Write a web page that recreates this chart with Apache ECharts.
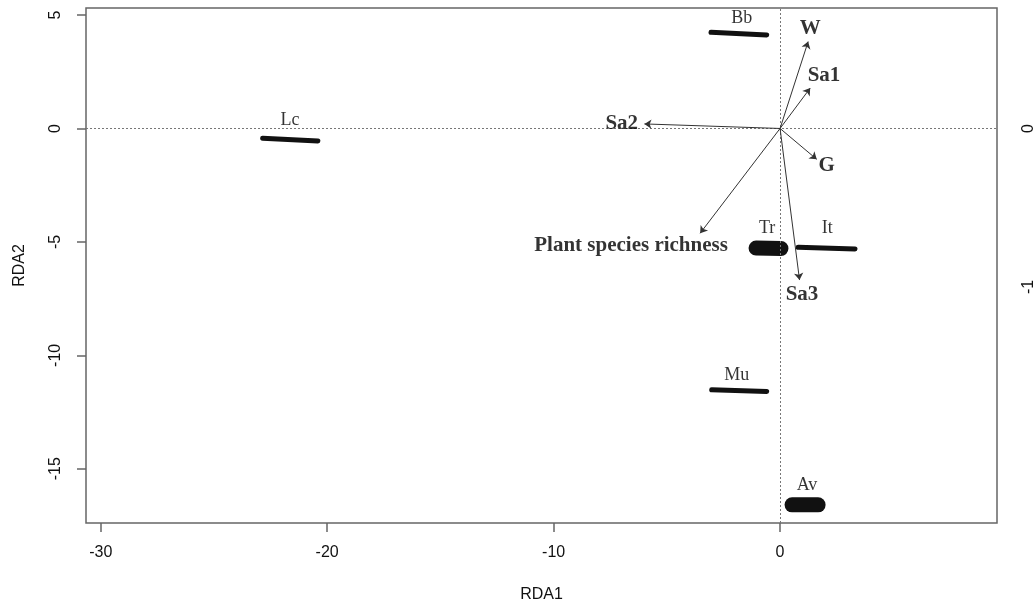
<!DOCTYPE html>
<html>
<head>
<meta charset="utf-8">
<title>RDA biplot</title>
<script src="https://cdn.jsdelivr.net/npm/echarts@6/dist/echarts.min.js"></script>
<style>
  html, body { margin: 0; padding: 0; background: #fff; }
  #chart { width: 1034px; height: 602px; }
</style>
</head>
<body>
<div id="chart"></div>
<script>
// site clusters: each cluster drawn as a stroke between two points
const clusterNames = ['Lc', 'Bb', 'Mu', 'It', 'Tr', 'Av']
const clusterStart = [[-22.85, -0.43], [-3.05, 4.24], [-3.02, -11.52], [0.80, -5.24], [-1.06, -5.27], [0.53, -16.59]]
const clusterEnd = [[-20.41, -0.55], [-0.59, 4.12], [-0.59, -11.59], [3.31, -5.31], [0.04, -5.29], [1.68, -16.59]]
const clusterIsBlob = [false, false, false, false, true, true]
const clusterLabelPos = [[-21.64, 0.37], [-1.69, 4.87], [-1.91, -10.86], [2.08, -4.39], [-0.57, -4.39], [1.19, -15.71]]

// environmental vectors
const arrowNames = ['W', 'Sa1', 'Sa2', 'G', 'Plant species richness', 'Sa3']
const arrowTips = [[1.24, 3.83], [1.33, 1.78], [-5.99, 0.20], [1.62, -1.36], [-3.53, -4.62], [0.86, -6.68]]
const arrowLabelPos = [[1.33, 4.39], [1.94, 2.31], [-6.99, 0.22], [2.06, -1.64], [-6.58, -5.16], [0.97, -7.34]]

const xTicks = [-30, -20, -10, 0]
const yTicks = [5, 0, -5, -10, -15]
const rightTicks = [0, -1]

const chart = echarts.init(document.getElementById('chart'))

const axisFont = { fontFamily: 'Liberation Sans, Arial, sans-serif', fontSize: 16, color: '#111' }

const clusterSeries = clusterNames.map((name, i) => ({
  name: name,
  type: 'line',
  xAxisIndex: 0,
  yAxisIndex: 0,
  data: [clusterStart[i], clusterEnd[i]],
  showSymbol: false,
  silent: true,
  z: 4,
  lineStyle: {
    color: '#111',
    width: clusterIsBlob[i] ? 15 : 5,
    cap: 'round'
  }
}))

const textLabel = {
  show: true,
  position: 'inside',
  formatter: p => p.name,
  fontFamily: 'Liberation Serif, Times New Roman, serif',
  color: '#000',
  textBorderWidth: 0
}

const option = {
  animation: false,
  backgroundColor: '#fff',
  grid: {
    left: 86,
    right: 37,
    top: 8,
    bottom: 79,
    outerBoundsMode: 'none',
    show: true,
    borderColor: '#666',
    borderWidth: 1.5,
    backgroundColor: 'transparent'
  },
  xAxis: {
    type: 'value',
    min: -30.65,
    max: 9.58,
    name: 'RDA1',
    nameLocation: 'middle',
    nameGap: 64,
    nameTextStyle: axisFont,
    splitLine: { show: false },
    axisLine: { show: false, onZero: false },
    axisTick: {
      show: true,
      length: 9,
      customValues: xTicks,
      lineStyle: { color: '#666', width: 1.5 }
    },
    axisLabel: {
      customValues: xTicks,
      margin: 22,
      ...axisFont
    }
  },
  yAxis: [
    {
      type: 'value',
      min: -17.39,
      max: 5.31,
      name: 'RDA2',
      nameLocation: 'middle',
      nameGap: 58,
      nameRotate: 90,
      nameTextStyle: axisFont,
      splitLine: { show: false },
      axisLine: { show: false, onZero: false },
      axisTick: {
        show: true,
        length: 9,
        customValues: yTicks,
        lineStyle: { color: '#666', width: 1.5 }
      },
      axisLabel: {
        customValues: yTicks,
        rotate: 90,
        margin: 22,
        ...axisFont
      }
    },
    {
      type: 'value',
      position: 'right',
      min: -2.489,
      max: 0.76,
      splitLine: { show: false },
      axisLine: { show: false, onZero: false },
      axisTick: { show: false },
      axisLabel: {
        customValues: rightTicks,
        rotate: 90,
        margin: 24,
        ...axisFont
      }
    }
  ],
  series: [
    {
      name: 'zero',
      type: 'scatter',
      data: [],
      silent: true,
      z: 1,
      markLine: {
        silent: true,
        symbol: ['none', 'none'],
        label: { show: false },
        lineStyle: { color: '#777', width: 1, type: [2, 2] },
        data: [{ xAxis: 0 }, { yAxis: 0 }]
      }
    },
    ...clusterSeries,
    {
      name: 'vectors',
      type: 'lines',
      coordinateSystem: 'cartesian2d',
      silent: true,
      z: 5,
      symbol: ['none', 'arrow'],
      symbolSize: 7,
      lineStyle: { color: '#333', width: 1, opacity: 1 },
      data: arrowTips.map(t => ({ coords: [[0, 0], t] }))
    },
    {
      name: 'siteLabels',
      type: 'scatter',
      symbolSize: 0,
      silent: true,
      z: 6,
      itemStyle: { color: '#000' },
      label: { ...textLabel, fontSize: 18 },
      data: clusterNames.map((n, i) => ({ name: n, value: clusterLabelPos[i] }))
    },
    {
      name: 'vectorLabels',
      type: 'scatter',
      symbolSize: 0,
      silent: true,
      z: 6,
      itemStyle: { color: '#000' },
      label: { ...textLabel, fontWeight: 'bold', fontSize: 21 },
      data: arrowNames.map((n, i) => ({ name: n, value: arrowLabelPos[i] }))
    }
  ]
}

chart.setOption(option)
</script>
</body>
</html>
